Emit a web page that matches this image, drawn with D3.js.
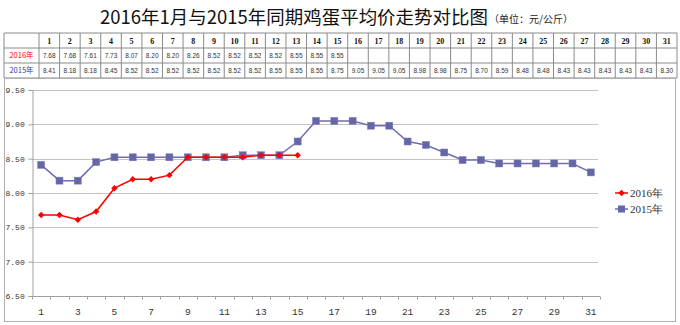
<!DOCTYPE html>
<html><head><meta charset="utf-8">
<script src="https://cdn.jsdelivr.net/npm/d3@7"></script>
<style>body{margin:0;background:#fff}svg{display:block}</style>
</head><body>
<script>
const days = d3.range(1, 32);
const values2016 = [7.68,7.68,7.61,7.73,8.07,8.20,8.20,8.26,8.52,8.52,8.52,8.52,8.55,8.55,8.55];
const values2015 = [8.41,8.18,8.18,8.45,8.52,8.52,8.52,8.52,8.52,8.52,8.52,8.55,8.55,8.55,8.75,9.05,9.05,9.05,8.98,8.98,8.75,8.70,8.59,8.48,8.48,8.43,8.43,8.43,8.43,8.43,8.30];
const yTicks = [6.5,7.0,7.5,8.0,8.5,9.0,9.5];
const seriesNames = ["2016年","2015年"];
const titleText = "2016年1月与2015年同期鸡蛋平均价走势对比图";
const unitText = "（单位：元/公斤）";

const W = 680, H = 325;
const svg = d3.select("body").append("svg").attr("width", W).attr("height", H);

// Title
svg.append("text").attr("x", 100).attr("y", 24)
  .attr("font-family", "Noto Sans CJK SC").attr("font-size", 18.5).attr("fill", "#111")
  .attr("textLength", 388).attr("lengthAdjust", "spacingAndGlyphs")
  .text(titleText);
svg.append("text").attr("x", 489).attr("y", 23)
  .attr("font-family", "Noto Sans CJK SC").attr("font-size", 10).attr("fill", "#222")
  .text(unitText);

// Table
const tLeft = 4, tRight = 677, firstW = 35, tTop = 33, rowH = 15;
const colX = d3.scaleBand().domain(days).range([tLeft + firstW, tRight]);
const tg = svg.append("g");
const rowsY = [tTop, tTop + rowH, tTop + 2 * rowH, tTop + 3 * rowH];
rowsY.forEach(y => tg.append("line").attr("x1", tLeft).attr("x2", tRight).attr("y1", y).attr("y2", y).attr("stroke", "#8a8a8a"));
[tLeft, tLeft + firstW].concat(days.map(d => colX(d) + colX.bandwidth())).forEach(x =>
  tg.append("line").attr("x1", x).attr("x2", x).attr("y1", tTop).attr("y2", tTop + 3 * rowH).attr("stroke", "#8a8a8a"));
days.forEach(d => {
  tg.append("text").attr("x", colX(d) + colX.bandwidth() / 2).attr("y", tTop + 10.5)
    .attr("text-anchor", "middle").attr("font-family", "Liberation Serif").attr("font-weight", "bold")
    .attr("font-size", 8).attr("fill", "#111").text(d);
});
values2016.forEach((v, i) => {
  tg.append("text").attr("x", colX(days[i]) + colX.bandwidth() / 2).attr("y", tTop + rowH + 10)
    .attr("text-anchor", "middle").attr("font-family", "Liberation Sans").attr("font-size", 6.5)
    .attr("fill", "#333").text(v.toFixed(2));
});
values2015.forEach((v, i) => {
  tg.append("text").attr("x", colX(days[i]) + colX.bandwidth() / 2).attr("y", tTop + 2 * rowH + 10)
    .attr("text-anchor", "middle").attr("font-family", "Liberation Sans").attr("font-size", 6.5)
    .attr("fill", "#333").text(v.toFixed(2));
});
tg.append("text").attr("x", tLeft + firstW / 2).attr("y", tTop + rowH + 10).attr("text-anchor", "middle")
  .attr("font-family", "Noto Sans CJK SC").attr("font-size", 7.5).attr("fill", "#ff0000").text(seriesNames[0]);
tg.append("text").attr("x", tLeft + firstW / 2).attr("y", tTop + 2 * rowH + 10).attr("text-anchor", "middle")
  .attr("font-family", "Noto Sans CJK SC").attr("font-size", 7.5).attr("fill", "#3333bb").text(seriesNames[1]);

// Chart frame
svg.append("rect").attr("x", 4.5).attr("y", 78.5).attr("width", 671).attr("height", 243)
  .attr("fill", "none").attr("stroke", "#b0b0b0");

// Scales
const pL = 32, pR = 600, pT = 90, pB = 296;
const x = d3.scaleBand().domain(days).range([pL, pR]);
const cx = d => x(d) + x.bandwidth() / 2;
const y = d3.scaleLinear().domain([6.5, 9.5]).range([pB, pT]);

// Gridlines
svg.append("g").selectAll("line").data(yTicks.filter(t => t > 6.5)).join("line")
  .attr("x1", pL).attr("x2", pR - 2).attr("y1", d => Math.round(y(d)) + 0.5).attr("y2", d => Math.round(y(d)) + 0.5)
  .attr("stroke", "#c4c4c4").attr("stroke-width", 1);

// Y axis
const yAxis = svg.append("g").attr("transform", `translate(${pL + 0.5},0)`)
  .call(d3.axisLeft(y).tickValues(yTicks).tickSize(4).tickFormat(d3.format(".2f")));
yAxis.select(".domain").attr("stroke", "#a0a0a0");
yAxis.selectAll(".tick line").attr("stroke", "#a0a0a0");
yAxis.selectAll(".tick text").attr("x", -27).attr("text-anchor", "start")
  .attr("font-family", "Liberation Mono").attr("font-size", 8).attr("fill", "#333");

// X axis
const xg = svg.append("g").attr("transform", `translate(0,${Math.round(y(6.5)) + 0.5})`);
xg.append("line").attr("x1", pL).attr("x2", pR).attr("stroke", "#a0a0a0");
xg.selectAll("line.tk").data(d3.range(0, 32)).join("line").attr("class", "tk")
  .attr("x1", i => Math.round(pL + i * x.step()) + 0.5).attr("x2", i => Math.round(pL + i * x.step()) + 0.5)
  .attr("y1", 0).attr("y2", 3).attr("stroke", "#a0a0a0");
xg.selectAll("text").data(days.filter(d => d % 2 === 1)).join("text")
  .attr("x", d => cx(d)).attr("y", 18).attr("text-anchor", "middle")
  .attr("font-family", "Liberation Mono").attr("font-size", 9.5).attr("fill", "#333").text(d => d);

// Lines
const c2016 = "#ff0000", c2015 = "#6e6eb0", m2015 = "#6666a6";
const line = d3.line().x((d, i) => cx(days[i])).y(d => y(d));
svg.append("path").datum(values2015).attr("d", line).attr("fill", "none").attr("stroke", c2015).attr("stroke-width", 1.5);
svg.append("g").selectAll("rect").data(values2015).join("rect")
  .attr("x", (d, i) => cx(days[i]) - 3.5).attr("y", d => y(d) - 3.5).attr("width", 7).attr("height", 7)
  .attr("fill", m2015).attr("stroke", "#7a7ab8").attr("stroke-width", 0.5);
svg.append("path").datum(values2016).attr("d", line).attr("fill", "none").attr("stroke", c2016).attr("stroke-width", 1.5);
const diamond = d3.symbol().type(d3.symbolDiamond2).size(26);
svg.append("g").selectAll("path").data(values2016).join("path")
  .attr("transform", (d, i) => `translate(${cx(days[i])},${y(d)})`).attr("d", diamond).attr("fill", c2016);

// Legend
const lg = svg.append("g");
[[c2016, 193], [c2015, 209]].forEach(([c, ly], i) => {
  lg.append("line").attr("x1", 615).attr("x2", 628).attr("y1", ly).attr("y2", ly).attr("stroke", c).attr("stroke-width", 1.5);
  if (i === 0) lg.append("path").attr("transform", `translate(621.5,${ly})`).attr("d", diamond).attr("fill", c2016);
  else lg.append("rect").attr("x", 618).attr("y", ly - 3.5).attr("width", 7).attr("height", 7).attr("fill", m2015);
  lg.append("text").attr("x", 630).attr("y", ly + 4).attr("font-family", "Liberation Serif")
    .attr("font-size", 11).attr("fill", "#333").text(seriesNames[i]);
});
</script>
</body></html>
